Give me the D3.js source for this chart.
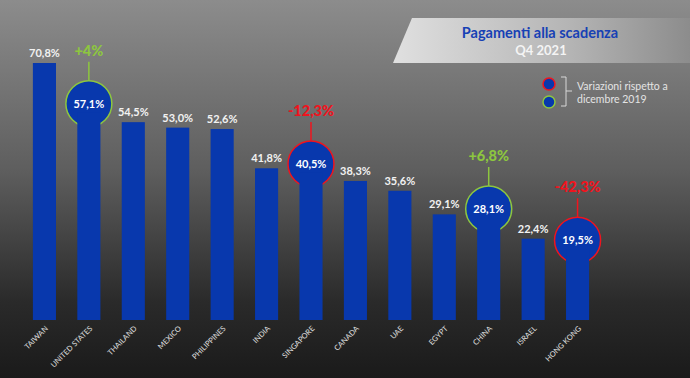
<!DOCTYPE html>
<html lang="it">
<head>
    <meta charset="UTF-8">
    <title>Pagamenti alla scadenza Q4 2021</title>
    <script src="https://d3js.org/d3.v7.min.js"></script>
    <style>
        body { margin: 0; background: #222; }
        text { font-family: Lato, "DejaVu Sans", sans-serif; }
    </style>
</head>
<body>
</body>
<script>
    const countries = ["TAIWAN", "UNITED STATES", "THAILAND", "MEXICO", "PHILIPPINES", "INDIA", "SINGAPORE",
        "CANADA", "UAE", "EGYPT", "CHINA", "ISRAEL", "HONG KONG"];
    const values = [70.8, 57.1, 54.5, 53.0, 52.6, 41.8, 40.5, 38.3, 35.6, 29.1, 28.1, 22.4, 19.5];
    // variazione rispetto a dicembre 2019 (solo per alcuni paesi)
    const changes = [null, 4, null, null, null, null, -12.3, null, null, null, 6.8, null, -42.3];
    const changeLabels = [null, "+4%", null, null, null, null, "-12,3%", null, null, null, "+6,8%", null, "-42,3%"];

    const WIDTH = 690, HEIGHT = 378;
    const BLUE = "#0838ad", RED = "#f0141e", GREEN = "#8dc63f";
    const fmt = v => v.toFixed(1).replace(".", ",") + "%";

    const svg = d3.select("body").append("svg").attr("width", WIDTH).attr("height", HEIGHT);
    const defs = svg.append("defs");

    let bgGrad = defs.append("linearGradient").attr("id", "bg").attr("x1", 0).attr("y1", 0).attr("x2", 0).attr("y2", 1);
    bgGrad.append("stop").attr("offset", "0%").attr("stop-color", "#8c8c8c");
    bgGrad.append("stop").attr("offset", "45%").attr("stop-color", "#5e5e5e");
    bgGrad.append("stop").attr("offset", "80%").attr("stop-color", "#2a2a2a");
    bgGrad.append("stop").attr("offset", "100%").attr("stop-color", "#1a1a1a");
    svg.append("rect").attr("width", WIDTH).attr("height", HEIGHT).attr("fill", "url(#bg)");

    // banner titolo
    let banGrad = defs.append("linearGradient").attr("id", "ban");
    banGrad.append("stop").attr("offset", "0%").attr("stop-color", "#e0e0e0");
    banGrad.append("stop").attr("offset", "60%").attr("stop-color", "#b4b4b4");
    banGrad.append("stop").attr("offset", "100%").attr("stop-color", "#8c8c8c");
    svg.append("path").attr("d", "M412,18 L690,18 L690,63 L393,63 Z").attr("fill", "url(#ban)");
    svg.append("text").attr("x", 540).attr("y", 38).attr("text-anchor", "middle")
        .attr("font-size", 14.5).attr("font-weight", "bold").attr("fill", "#1741b5").text("Pagamenti alla scadenza");
    svg.append("text").attr("x", 541).attr("y", 55).attr("text-anchor", "middle")
        .attr("font-size", 13).attr("font-weight", "bold").attr("fill", "#f4f4f4").text("Q4 2021");

    // legenda
    svg.append("circle").attr("cx", 549).attr("cy", 84).attr("r", 6).attr("fill", BLUE).attr("stroke", RED).attr("stroke-width", 1.5);
    svg.append("circle").attr("cx", 549).attr("cy", 102).attr("r", 6).attr("fill", BLUE).attr("stroke", GREEN).attr("stroke-width", 1.5);
    svg.append("path").attr("d", "M561,77 L566,77 L566,106 L561,106 M566,91 L572,91")
        .attr("fill", "none").attr("stroke", "#d8d8d8").attr("stroke-width", 1);
    svg.append("text").attr("x", 577).attr("y", 90).attr("font-size", 10.5).attr("fill", "#e4e4e4").text("Variazioni rispetto a");
    svg.append("text").attr("x", 577).attr("y", 103).attr("font-size", 10.5).attr("fill", "#e4e4e4").text("dicembre 2019");

    const x = d3.scaleBand().domain(countries).range([24, 598]).paddingInner(0.48).paddingOuter(0.2);
    const y = d3.scaleLinear().domain([0, 70.8]).range([320, 63]);

    const g = svg.append("g");
    countries.forEach((c, i) => {
        const cx = x(c) + x.bandwidth() / 2;
        const top = y(values[i]);
        if (changes[i] !== null) {
            const col = changes[i] >= 0 ? GREEN : RED;
            const cy = top - 9;
            g.append("line").attr("x1", cx).attr("x2", cx).attr("y1", cy - 23).attr("y2", cy - 42)
                .attr("stroke", col).attr("stroke-width", 1.5);
            g.append("circle").attr("cx", cx).attr("cy", cy).attr("r", 23)
                .attr("fill", BLUE).attr("stroke", col).attr("stroke-width", 1.5);
            g.append("rect").attr("x", x(c)).attr("y", top).attr("width", x.bandwidth()).attr("height", y(0) - top).attr("fill", BLUE);
            g.append("text").attr("x", cx).attr("y", cy + 4).attr("text-anchor", "middle")
                .attr("font-size", 11).attr("font-weight", "bold").attr("fill", "#fff").text(fmt(values[i]));
            g.append("text").attr("x", cx).attr("y", cy - 48).attr("text-anchor", "middle")
                .attr("font-size", 14.5).attr("font-weight", "900").attr("fill", col).text(changeLabels[i]);
        } else {
            g.append("rect").attr("x", x(c)).attr("y", top).attr("width", x.bandwidth()).attr("height", y(0) - top).attr("fill", BLUE);
            g.append("text").attr("x", cx).attr("y", top - 6).attr("text-anchor", "middle")
                .attr("font-size", 11).attr("font-weight", "bold").attr("fill", "#f2f2f2").text(fmt(values[i]));
        }
        g.append("text").attr("transform", "translate(" + (cx + 4) + ",329) rotate(-45)")
            .attr("text-anchor", "end").attr("font-size", 7.5).attr("fill", "#e0e0e0").text(c);
    });
</script>
</html>
